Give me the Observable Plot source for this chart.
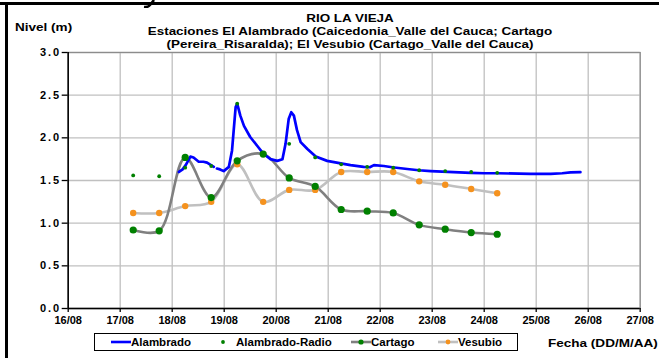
<!DOCTYPE html>
<html>
<head>
<meta charset="utf-8">
<script src="https://cdn.jsdelivr.net/npm/d3@7"></script>
<script src="https://cdn.jsdelivr.net/npm/@observablehq/plot@0.6"></script>
<style>
  html, body { margin:0; padding:0; background:#fff; overflow:hidden; }
  #wrap { position:relative; width:659px; height:358px; font-family:"Liberation Sans", Arial, sans-serif; font-weight:bold; color:#000; }
  #chart { position:absolute; left:0; top:0; }
  .t { position:absolute; white-space:nowrap; font-size:11px; line-height:13px; }
  .ctr { left:0; width:700px; text-align:center; transform:scaleX(1.22); transform-origin:350px 0; }
  .wide { transform:scaleX(1.23); transform-origin:0 0; }
  #legend { position:absolute; left:94px; top:333px; width:424px; height:18px; border:1px solid #000; box-sizing:border-box; font-size:11.5px; }
  #legend .it { position:absolute; top:2px; height:13px; line-height:13px; white-space:nowrap; }
  #legend svg { vertical-align:middle; margin-top:-2px; }
</style>
</head>
<body>
<div id="wrap">
  <div id="chart"></div>
</div>
<script>
// ---- data ----
const xTicks = [16, 17, 18, 19, 20, 21, 22, 23, 24, 25, 26, 27];
const yTicks = [0, 0.5, 1.0, 1.5, 2.0, 2.5, 3.0];

// readings every 12 h (day of August, fractional)
const readTimes = [17.25, 17.75, 18.25, 18.75, 19.25, 19.75, 20.25, 20.75, 21.25, 21.75, 22.25, 22.75, 23.25, 23.75, 24.25];
const cartago   = [0.92, 0.91, 1.77, 1.30, 1.73, 1.81, 1.53, 1.43, 1.16, 1.14, 1.12, 0.98, 0.93, 0.89, 0.87];
const vesubio   = [1.12, 1.12, 1.20, 1.25, 1.69, 1.25, 1.39, 1.39, 1.60, 1.60, 1.60, 1.49, 1.45, 1.40, 1.35];
const radio     = [1.56, 1.55, 1.65, 1.67, 2.40, 1.82, 1.93, 1.77, 1.69, 1.66, 1.65, 1.62, 1.61, 1.60, 1.59];

// continuous Alambrado sensor
const alamTimes = [18.13, 18.20, 18.26, 18.35, 18.41, 18.51, 18.60, 18.67, 18.80, 18.83,
                   18.86, 18.92, 18.99, 19.09, 19.15, 19.22, 19.25, 19.31, 19.38, 19.50,
                   19.63, 19.76, 19.89, 20.02, 20.12, 20.18, 20.24, 20.29, 20.34, 20.40,
                   20.47, 20.60, 20.76, 20.98, 21.24, 21.43, 21.68, 21.80, 21.88, 22.07,
                   22.23, 22.52, 22.74, 22.97, 23.30, 23.74, 24.00, 24.25, 24.89, 25.28,
                   25.50, 25.66, 25.85];
const alamVals  = [1.60, 1.63, 1.68, 1.78, 1.77, 1.72, 1.72, 1.71, 1.66, null,
                   1.64, 1.63, 1.61, 1.66, 1.85, 2.36, 2.40, 2.26, 2.14, 2.01,
                   1.91, 1.81, 1.75, 1.73, 1.75, 1.93, 2.22, 2.30, 2.26, 2.09,
                   1.95, 1.87, 1.78, 1.73, 1.70, 1.68, 1.66, 1.655, 1.68, 1.67,
                   1.655, 1.635, 1.62, 1.61, 1.60, 1.59, 1.585, 1.585, 1.578, 1.578,
                   1.585, 1.595, 1.598];

const titleLines = ["RIO LA VIEJA",
  "Estaciones El Alambrado (Caicedonia_Valle del Cauca; Cartago",
  "(Pereira_Risaralda);  El Vesubio (Cartago_Valle del Cauca)"];
const yTitle = "Nivel (m)";
const xTitle = "Fecha (DD/M/AA)";
const seriesNames = ["Alambrado", "Alambrado-Radio", "Cartago", "Vesubio"];

// ---- tables ----
const readings = readTimes.map((t, i) => ({t, cartago: cartago[i], vesubio: vesubio[i], radio: radio[i]}));
const alam = alamTimes.map((t, i) => ({t, v: alamVals[i]}));

const C = {blue:"#0000ff", green:"#008000", gray:"#808080", light:"#c0c0c0", orange:"#f5921e"};

const chart = Plot.plot({
  width: 659, height: 358,
  marginLeft: 67.7, marginRight: 19.3, marginTop: 52, marginBottom: 50,
  style: {fontFamily: '"Liberation Sans", Arial, sans-serif', fontSize: "11px", fontWeight: "bold", background: "transparent", color: "#000", overflow: "visible"},
  x: {domain: [16, 27], label: null},
  y: {domain: [0, 3], label: null},
  marks: [
    Plot.gridX(xTicks, {stroke: C.light, strokeOpacity: 1, strokeWidth: 1.3}),
    Plot.gridY(yTicks, {stroke: C.light, strokeOpacity: 1, strokeWidth: 1.3}),
    Plot.frame({stroke: "#8c8c8c", strokeWidth: 1.2}),
    Plot.line(readings, {x: "t", y: "vesubio", stroke: C.light, strokeWidth: 2.6, curve: "catmull-rom"}),
    Plot.line(readings, {x: "t", y: "cartago", stroke: C.gray, strokeWidth: 2.6, curve: "catmull-rom"}),
    Plot.line(alam, {x: "t", y: "v", stroke: C.blue, strokeWidth: 2.7}),
    Plot.dot(readings, {x: "t", y: "vesubio", r: 3.2, fill: C.orange, stroke: "none"}),
    Plot.dot(readings, {x: "t", y: "cartago", r: 3.6, fill: C.green, stroke: "none"}),
    Plot.dot(readings, {x: "t", y: "radio", r: 1.9, fill: C.green, stroke: "none"}),
    Plot.axisX({ticks: xTicks, tickFormat: d => String(d).padStart(2, "0") + "/08", tickSize: 4, tickPadding: 4, stroke: "#000", strokeWidth: 1.3}),
    Plot.axisY({ticks: yTicks, tickFormat: d3.format(".1f"), tickSize: 6, tickPadding: 1, stroke: "#000", strokeWidth: 1.3}),
    Plot.ruleY([0], {stroke: "#000", strokeWidth: 1.5}),
    Plot.ruleX([16], {stroke: "#000", strokeWidth: 1.5})
  ]
});
document.getElementById("chart").appendChild(chart);
// the reference's y tick labels are set wider
d3.select(chart).selectAll('g[aria-label="y-axis tick label"]').style("letter-spacing", "2px");

const wrap = document.getElementById("wrap");
function addDiv(cls, text, css) {
  const d = document.createElement("div");
  d.className = cls;
  d.textContent = text;
  Object.assign(d.style, css);
  wrap.appendChild(d);
  return d;
}
// page frame pieces (document border)
addDiv("t", "", {left: "0px", top: "2px", width: "659px", height: "3px", background: "#000"});
addDiv("t", "", {left: "5px", top: "2px", width: "3px", height: "356px", background: "#000"});
// fragment of a descender above the chart (decoration)
const frag = d3.create("svg").attr("width", 20).attr("height", 8)
  .style("position", "absolute").style("left", "140px").style("top", "0px");
frag.append("path").attr("d", "M14,0 L10,5 Q8,7.5 4,7").attr("fill", "none").attr("stroke", "#000").attr("stroke-width", 2.6);
wrap.appendChild(frag.node());

// titles
addDiv("t ctr", titleLines[0], {top: "12px"});
addDiv("t ctr", titleLines[1], {top: "25px"});
addDiv("t ctr", titleLines[2], {top: "38px"});
addDiv("t wide", yTitle, {left: "15px", top: "21px"});
addDiv("t wide", xTitle, {left: "548px", top: "337px"});

// legend
const lg = document.createElement("div");
lg.id = "legend";
wrap.appendChild(lg);
function sample(lineColor, dotColor, dotR, showLine) {
  const s = d3.create("svg").attr("width", 20).attr("height", 10);
  if (showLine) s.append("line").attr("x1", 0).attr("x2", 20).attr("y1", 5).attr("y2", 5).attr("stroke", lineColor).attr("stroke-width", 2.6);
  if (dotColor) s.append("circle").attr("cx", 10).attr("cy", 5).attr("r", dotR).attr("fill", dotColor);
  return s.node();
}
const items = [
  {x: 16, line: C.blue, dot: null, r: 0, showLine: true},
  {x: 118, line: null, dot: C.green, r: 1.9, showLine: false},
  {x: 256, line: C.gray, dot: C.green, r: 2.6, showLine: true},
  {x: 343, line: C.light, dot: C.orange, r: 2.4, showLine: true}
];
items.forEach((it, i) => {
  const d = document.createElement("div");
  d.className = "it";
  d.style.left = it.x + "px";
  d.appendChild(sample(it.line, it.dot, it.r, it.showLine));
  const sp = document.createElement("span");
  sp.textContent = seriesNames[i];
  sp.style.marginLeft = i === 1 ? "3px" : "0px";
  d.appendChild(sp);
  lg.appendChild(d);
});
</script>
</body>
</html>
